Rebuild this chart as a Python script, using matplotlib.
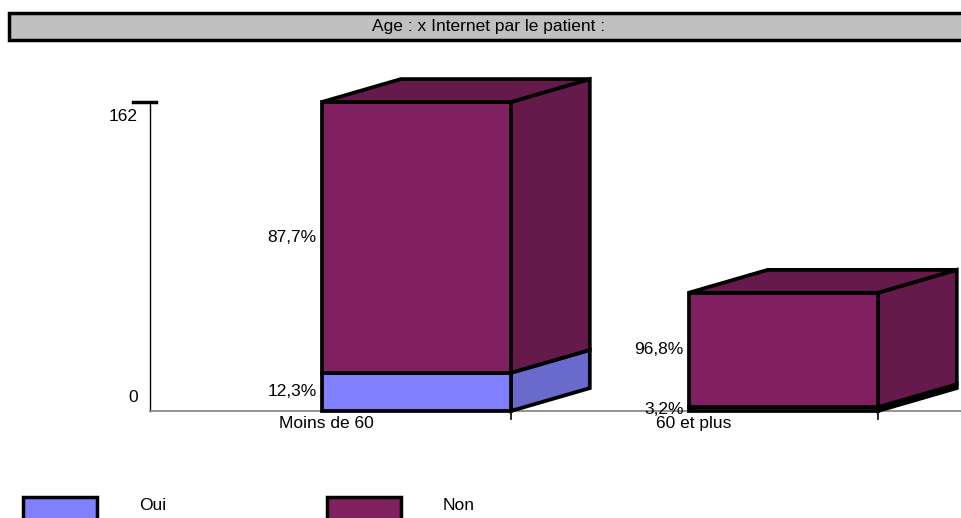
import matplotlib
matplotlib.use("Agg")
import matplotlib.pyplot as plt
from matplotlib.patches import Polygon, Rectangle

plt.rcParams['font.family'] = ['Liberation Sans', 'DejaVu Sans']

# data
categories = ["Moins de 60", "60 et plus"]
series = ["Oui", "Non"]
oui = [20, 2]
non = [142, 60]
pct_labels = [["12,3%", "87,7%"], ["3,2%", "96,8%"]]
y_max = 162
title = "Age : x Internet par le patient :"

front_colors = ["#8080FF", "#802060"]
side_colors = ["#6A6ACC", "#661A4C"]

W, H = 961, 518
fig = plt.figure(figsize=(W / 100, H / 100), dpi=100)


def fx(px):
    return px / W


def fy(py):
    return 1 - py / H


# plot area: y=0 at px 411, y=162 at px 102, x from px 150 to right edge
ax = fig.add_axes([fx(150), fy(411), fx(811), fy(102) - fy(411)])
ax.set_ylim(0, y_max)
ax.set_xlim(-0.726, 1.484)

bar_w = 0.515
dx = 0.215  # depth offset (data units)
dy = 12.0
lw = 2.7
fs = 12.5

for i, cat in enumerate(categories):
    vals = [oui[i], non[i]]
    x0 = i - bar_w / 2
    x1 = i + bar_w / 2
    bottom = 0
    for s, v in enumerate(vals):
        top = bottom + v
        # side face
        ax.add_patch(Polygon([(x1, bottom), (x1 + dx, bottom + dy), (x1 + dx, top + dy), (x1, top)],
                             closed=True, facecolor=side_colors[s], edgecolor="black",
                             linewidth=lw, joinstyle="miter", clip_on=False, zorder=3))
        # front face
        ax.bar(x0, v, bottom=bottom, width=bar_w, align="edge", color=front_colors[s],
               edgecolor="black", linewidth=lw, zorder=4, clip_on=False)
        ax.text(x0 - 0.015, bottom + v / 2, pct_labels[i][s], ha="right", va="center",
                fontsize=fs)
        bottom = top
    # top face
    ax.add_patch(Polygon([(x0, bottom), (x0 + dx, bottom + dy), (x1 + dx, bottom + dy), (x1, bottom)],
                         closed=True, facecolor=side_colors[1], edgecolor="black",
                         linewidth=lw, joinstyle="miter", clip_on=False, zorder=5))
    # category label and tick
    ax.text(x0 + 0.012, -2.5, cat, ha="center", va="top", fontsize=fs)
    ax.plot([x1, x1], [0, -4], color="black", linewidth=1.2, clip_on=False, zorder=6)

for side in ["top", "right"]:
    ax.spines[side].set_visible(False)
ax.spines["bottom"].set_color("#808080")
ax.spines["bottom"].set_linewidth(1.2)
ax.spines["left"].set_linewidth(1.0)
ax.set_xticks([])
ax.set_yticks([])
ax.patch.set_visible(False)

# y labels and top tick
ax.plot([-0.726 - 17 / 367, -0.726 + 6 / 367], [y_max, y_max], color="black",
        linewidth=2.5, clip_on=False)
ax.text(-0.726 - 12 / 367, y_max - 3.5, str(y_max), ha="right", va="top", fontsize=fs)
ax.text(-0.726 - 12 / 367, 3, "0", ha="right", va="bottom", fontsize=fs)

# title bar
fig.add_artist(Rectangle((fx(9), fy(40)), fx(980), fy(13) - fy(40), transform=fig.transFigure,
                         facecolor="#C0C0C0", edgecolor="black", linewidth=2.5))
fig.text(fx(489), fy(27), title, ha="center", va="center", fontsize=fs)

# legend
legend_x = [23, 327]
legend_tx = [139, 443]
for s, name in enumerate(series):
    fig.add_artist(Rectangle((fx(legend_x[s]), fy(521)), fx(74), fy(497) - fy(521),
                             transform=fig.transFigure, facecolor=front_colors[s],
                             edgecolor="black", linewidth=2.5))
    fig.text(fx(legend_tx[s]), fy(506), name, ha="left", va="center", fontsize=fs)

fig.savefig("out.png", dpi=100)
